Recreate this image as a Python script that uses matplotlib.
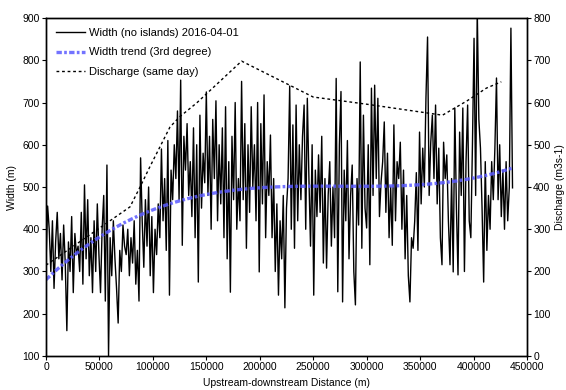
import numpy as np
import matplotlib
matplotlib.use("Agg")
import matplotlib.pyplot as plt

plt.rcParams['font.family'] = ['Liberation Sans', 'DejaVu Sans']

# Width (m) sampled every 1500 m along the river
width_step = 1500
width_values = [
    320, 455, 400, 300, 420, 260, 370, 440, 330, 390,
    280, 410, 320, 160, 370, 300, 430, 250, 390, 340,
    360, 300, 440, 270, 505, 330, 470, 290, 380, 250,
    420, 300, 460, 340, 250, 400, 480, 230, 552, 100,
    380, 290, 420, 330, 260, 178, 350, 300, 410, 360,
    340, 400, 290, 380, 320, 420, 270, 350, 230, 569,
    420, 310, 470, 360, 500, 290, 430, 250, 400, 340,
    460, 380, 590, 420, 520, 350, 610, 244, 540, 470,
    600, 520, 680, 470, 753, 362, 620, 540, 650, 480,
    560, 430, 640, 380, 600, 275, 670, 450, 580, 510,
    725, 480, 620, 400, 660, 520, 704, 420, 600, 460,
    640, 380, 690, 330, 560, 251, 620, 470, 700, 400,
    520, 420, 750, 470, 650, 355, 600, 440, 690, 500,
    600, 420, 700, 299, 650, 460, 718, 380, 560, 480,
    623, 380, 520, 300, 460, 244, 420, 330, 480, 214,
    450, 520, 739, 400, 647, 355, 694, 420, 600, 470,
    620, 694, 400, 710, 520, 360, 600, 244, 540, 430,
    576, 440, 620, 320, 520, 308, 480, 560, 360, 500,
    380, 757, 252, 600, 726, 228, 540, 420, 610, 330,
    480, 552, 300, 221, 520, 410, 796, 355, 670, 450,
    403, 600, 316, 734, 480, 741, 520, 710, 430, 512,
    560, 654, 440, 580, 380, 500, 362, 647, 420, 560,
    520, 606, 400, 540, 330, 480, 290, 228, 380, 355,
    420, 534, 350, 630, 460, 592, 500, 711, 855, 480,
    606, 670, 520, 694, 460, 592, 380, 316, 606, 520,
    576, 420, 316, 520, 299, 687, 450, 292, 630, 480,
    687, 300, 560, 694, 420, 380, 600, 852, 480, 920,
    660, 592, 450, 275, 560, 350, 480, 400, 560, 470,
    592, 758, 470, 600, 430, 540, 400, 560, 420, 500,
    876, 498,
]

# Discharge (m3 s-1) at gauging points along the river
discharge_dist = [0, 57000, 78600, 88000, 97000, 116000, 125000, 141000,
                  183000, 250000, 300000, 371000, 394000, 412000, 426000]
discharge_vals = [215, 315, 353, 400, 447, 542, 566, 599,
                  698, 613, 596, 570, 604, 634, 649]

x_ticks = [0, 50000, 100000, 150000, 200000, 250000, 300000, 350000, 400000, 450000]
left_ticks = [100, 200, 300, 400, 500, 600, 700, 800, 900]
right_ticks = [0, 100, 200, 300, 400, 500, 600, 700, 800]

dist = np.arange(len(width_values)) * width_step
width = np.array(width_values, dtype=float)
coef = np.polyfit(dist, width, 3)
trend = np.polyval(coef, dist)

fig = plt.figure(figsize=(5.66, 3.90), dpi=100)
ax = fig.add_axes([0.0813, 0.0872, 0.8497, 0.8666])
ax2 = ax.twinx()

l1, = ax.plot(dist, width, color='black', lw=1.0, label='Width (no islands) 2016-04-01')
l2, = ax.plot(dist, trend, color='#5a5aff', lw=2.4, alpha=0.85,
              linestyle=(0, (1.6, 0.7, 0.8, 0.7)), label='Width trend (3rd degree)')
l3, = ax2.plot(discharge_dist, discharge_vals, color='black', lw=1.0,
               linestyle=(0, (2, 2)), label='Discharge (same day)')

ax.set_xlim(0, 450000)
ax.set_ylim(100, 900)
ax2.set_ylim(0, 800)
ax.set_xticks(x_ticks)
ax.set_xticklabels([str(t) for t in x_ticks])
ax.set_yticks(left_ticks)
ax2.set_yticks(right_ticks)

for a in (ax, ax2):
    a.tick_params(labelsize=7.5, length=3, width=0.8, direction='out', pad=1.5)
    for s in a.spines.values():
        s.set_linewidth(1.0)

ax.set_xlabel('Upstream-downstream Distance (m)', fontsize=7.5, labelpad=4.5)
ax.set_ylabel('Width (m)', fontsize=7.5, labelpad=4)
ax2.set_ylabel('Discharge (m3s-1)', fontsize=7.5, labelpad=3)

leg = ax.legend(handles=[l1, l2, l3], loc='upper left', frameon=False,
                fontsize=8, handlelength=2.6, handletextpad=0.4,
                labelspacing=0.85, borderaxespad=0.5, bbox_to_anchor=(0.0, 1.0))

fig.savefig('out.png', dpi=100)
